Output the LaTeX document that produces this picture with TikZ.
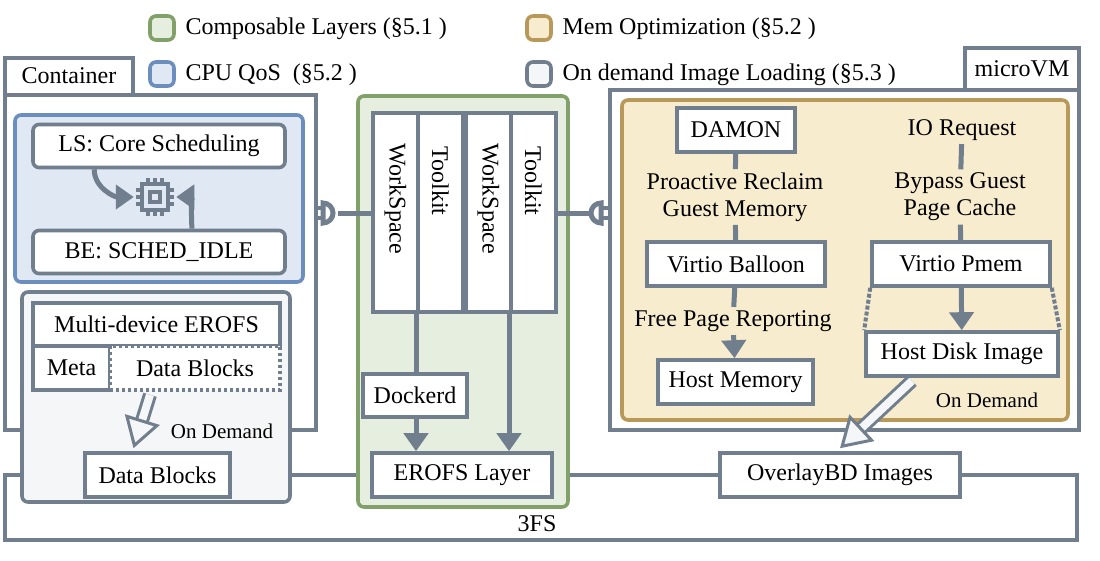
\documentclass[tikz,border=0pt]{standalone}
\usepackage{fontspec}
\setmainfont{Liberation Serif}
\usetikzlibrary{positioning}
\usetikzlibrary{arrows.meta}
\definecolor{slate}{RGB}{112,126,142}
\definecolor{qosblue}{RGB}{223,232,243}
\definecolor{qosedge}{RGB}{108,142,191}
\definecolor{layergreen}{RGB}{230,238,223}
\definecolor{layeredge}{RGB}{130,160,106}
\definecolor{memorange}{RGB}{248,236,206}
\definecolor{memedge}{RGB}{185,153,90}
\definecolor{loadgray}{RGB}{245,246,247}
\tikzset{
	box/.style={draw=slate,line width=3.6pt,fill=white,inner sep=0pt},
	rbox/.style={box,rounded corners=6pt},
	wire/.style={draw=slate,line width=5pt},
	flow/.style={wire,-{Triangle[length=18pt,width=24pt]}},
	hollow/.style={draw=slate,line width=3pt,double=loadgray,double distance=8pt,-{Triangle[open,length=30pt,width=36pt,fill=loadgray,line width=3pt]}}
}
\begin{document}
\begin{tikzpicture}[x=1pt,y=-1pt,font=\fontsize{24}{27}\selectfont]
	\useasboundingbox (0,0) rectangle (1100,560);

	%% 3FS %%
	\draw [slate,line width=3.6pt] (5,475) rectangle (1077,540);
	\node (fs) at (537,524) {3FS};

	%% Legend %%
	\draw [rbox,fill=layergreen,draw=layeredge] (150,16) rectangle (174,40);
	\node [anchor=west] (lgA) at (182,29) {Composable Layers (§5.1 )};
	\draw [rbox,fill=memorange,draw=memedge] (527,16) rectangle (551,40);
	\node [anchor=west] (lgB) at (559,29) {Mem Optimization (§5.2 )};
	\draw [rbox,fill=qosblue,draw=qosedge] (150,62) rectangle (174,86);
	\node [anchor=west] (lgC) at (182,75) {CPU QoS\ \ (§5.2 )};
	\draw [rbox,fill=loadgray] (527,62) rectangle (551,86);
	\node [anchor=west] (lgD) at (559,75) {On demand Image Loading (§5.3 )};

	%% Container %%
	\draw [box] (5,58) rectangle (133,95);
	\node (ctag) at (69,76) {Container};
	\draw [box] (5,95) rectangle (316,430);
	\draw [rbox,fill=qosblue,draw=qosedge] (15,115) rectangle (303,282);
	\node [rbox,minimum width=252pt,minimum height=43pt] (ls) at (159,146) {LS: Core Scheduling};
	\node [rbox,minimum width=252pt,minimum height=43pt] (be) at (159,252) {BE: SCHED\_IDLE};
	%% CPU icon %%
	\node [draw=slate,line width=4.5pt,minimum size=26pt,inner sep=0pt] (cpu) at (155,197) {};
	\draw [slate,line width=4pt] (150,192) rectangle (160,202);
	\foreach \d in {-7,0,7} {
		\draw [slate,line width=3.6pt] (155+\d,178) -- (155+\d,185) (155+\d,209) -- (155+\d,216);
		\draw [slate,line width=3.6pt] (136,197+\d) -- (143,197+\d) (167,197+\d) -- (174,197+\d);
	}
	\draw [flow] ([xshift=63pt]ls.south west) to [out=-90,in=180] ([xshift=-6pt]cpu.west);
	\draw [flow] ([xshift=-95pt]be.north east) to [out=90,in=0] ([xshift=6pt]cpu.east);

	%% Image loading %%
	\draw [rbox,fill=loadgray] (22,292) rectangle (290,502);
	\node [box,minimum width=247pt,minimum height=43pt] (mdev) at (156.5,324.5) {Multi-device EROFS};
	\node [box,minimum width=77pt,minimum height=44pt] (meta) at (71.5,368) {Meta};
	\node [box,dashed,minimum width=170pt,minimum height=44pt] (dblk) at (195,368) {Data Blocks};
	\node [box,minimum width=145pt,minimum height=44pt] (dblk2) at (157.5,475) {Data Blocks};
	\draw [hollow] ([xshift=-45pt,yshift=-3pt]dblk.south) -- ([xshift=-24pt,yshift=3pt]dblk2.north);
	\node (od1) at (222,431) {\fontsize{21}{23}\selectfont On Demand};

	%% Layers %%
	\draw [rbox,fill=layergreen,draw=layeredge] (358,96) rectangle (568,507);
	\foreach \x/\n in {371/a,464/b} {
		\node [box,minimum width=45pt,minimum height=199pt,anchor=north west] (ws\n) at (\x,111) {};
		\node [box,minimum width=45pt,minimum height=199pt,anchor=north west] (tk\n) at (\x+45,111) {};
		\node [rotate=-90] at ([yshift=-88pt]ws\n.north) {WorkSpace};
		\node [rotate=-90] at ([yshift=-70pt]tk\n.north) {Toolkit};
	}
	\node [box,minimum width=104pt,minimum height=43pt] (dockerd) at (415,395.5) {Dockerd};
	\node [box,minimum width=180pt,minimum height=44pt] (erofs) at (462,475) {EROFS Layer};
	\draw [wire] (tka.south west) -- (dockerd.north -| tka.south west);
	\draw [flow] (dockerd.south -| tka.south west) -- (erofs.north -| tka.south west);
	\draw [flow] (tkb.south west) -- (erofs.north -| tkb.south west);

	%% Plugs %%
	\draw [wire] (wsa.west |- 0,213) -- (338,213);
	\begin{scope}[shift={(323,213)},x=1pt,y=1pt]
		\draw [wire,fill=white] (0,-10) -- (0,10) arc (90:-90:10) -- cycle;
		\draw [slate,line width=3.6pt] (0,5) -- (-8,5) (0,-5) -- (-8,-5);
	\end{scope}
	\draw [wire] (tkb.east |- 0,213) -- (590,213);
	\begin{scope}[shift={(601,213)},x=1pt,y=1pt]
		\draw [wire,fill=white] (0,-10) -- (0,10) arc (90:270:10) -- cycle;
		\draw [slate,line width=3.6pt] (0,5) -- (9,5) (0,-5) -- (9,-5);
	\end{scope}

	%% microVM %%
	\draw [box] (965,48) rectangle (1079,90);
	\node (vtag) at (1022,69) {microVM};
	\draw [box] (610,90) rectangle (1079,430);
	\draw [rbox,fill=memorange,draw=memedge] (622,100) rectangle (1068,420);
	\node [box,minimum width=118pt,minimum height=44pt] (damon) at (736,130) {DAMON};
	\node (io) at (962,130) {IO Request};
	\node [align=center] (reclaim) at (735,197) {Proactive Reclaim\\Guest Memory};
	\node [align=center] (bypass) at (960,197) {Bypass Guest\\Page Cache};
	\node [box,minimum width=178pt,minimum height=44pt] (balloon) at (736,264) {Virtio Balloon};
	\node [box,minimum width=178pt,minimum height=44pt] (pmem) at (961,264) {Virtio Pmem};
	\node (fpr) at (733,321) {Free Page Reporting};
	\node [box,minimum width=155pt,minimum height=44pt] (hmem) at (735.5,382) {Host Memory};
	\node [box,minimum width=192pt,minimum height=44pt] (hdisk) at (962,354) {Host Disk Image};
	\node (od2) at (987,400) {\fontsize{21}{23}\selectfont On Demand};
	\draw [wire] (damon) -- (reclaim);
	\draw [wire] (io) -- (bypass);
	\draw [wire] (reclaim) -- (balloon);
	\draw [wire] (bypass) -- (pmem);
	\draw [wire] (balloon) -- (fpr);
	\draw [flow] (fpr) -- (hmem);
	\draw [flow] (pmem) -- (hdisk);
	\draw [slate,line width=4pt,dotted] (pmem.south west) -- (hdisk.north west);
	\draw [slate,line width=4pt,dotted] (pmem.south east) -- (hdisk.north east);
	\node [box,minimum width=240pt,minimum height=44pt] (overlay) at (840,475) {OverlayBD Images};
	\draw [hollow] ([xshift=-50pt,yshift=-3pt]hdisk.south) -- ([yshift=3pt]overlay.north);
\end{tikzpicture}
\end{document}
